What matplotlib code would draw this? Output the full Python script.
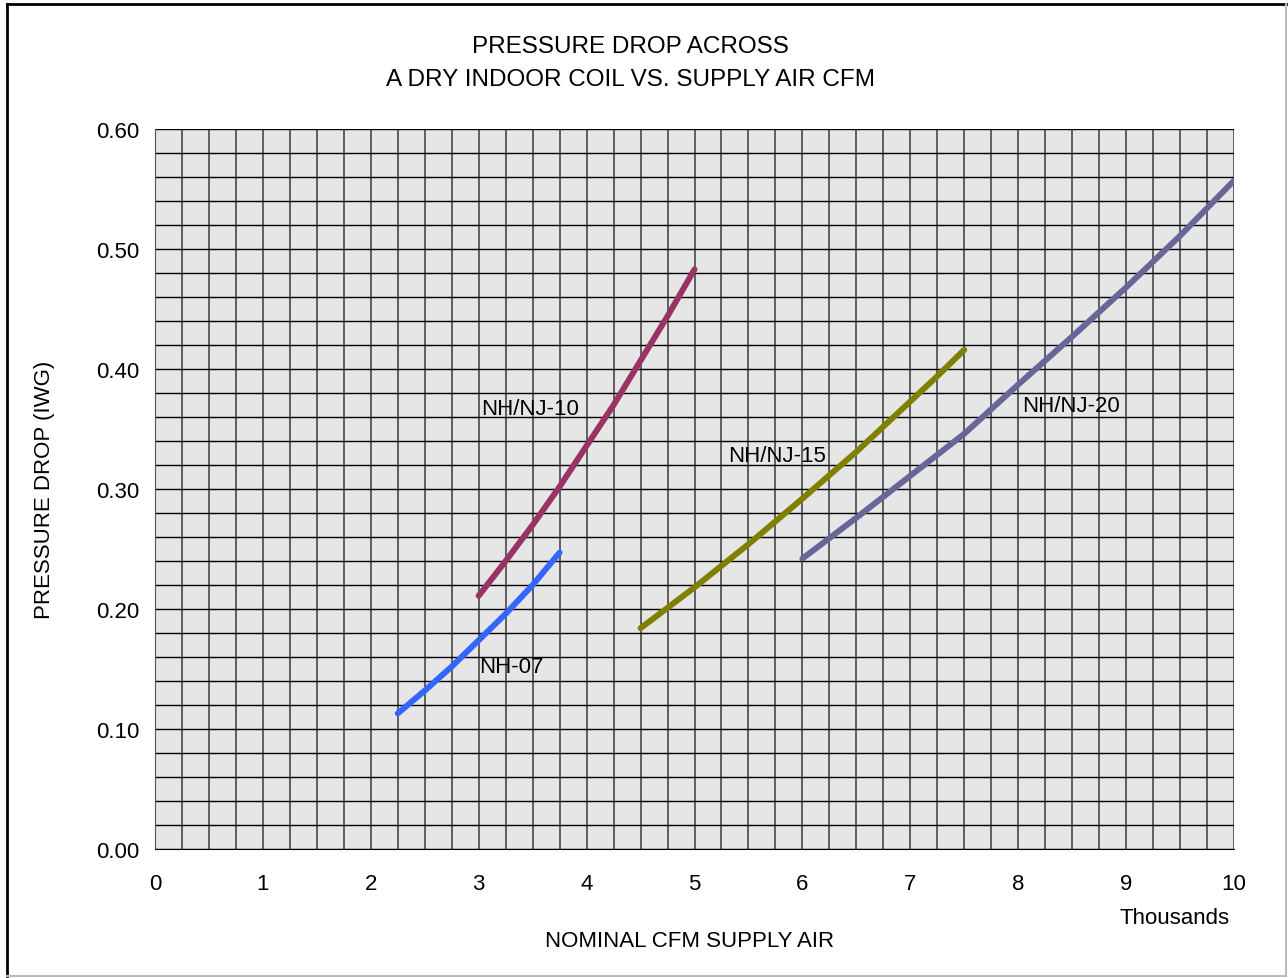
import matplotlib.pyplot as plt
from matplotlib.ticker import MultipleLocator, FormatStrFormatter
from matplotlib.lines import Line2D

# supply air, thousands of CFM / pressure drop, IWG
nh07_cfm = [2.25, 2.5, 2.75, 3.0, 3.25, 3.5, 3.75]
nh07_dp = [0.113, 0.132, 0.152, 0.174, 0.196, 0.220, 0.247]

nj10_cfm = [3.0, 3.25, 3.5, 3.75, 4.0, 4.25, 4.5, 4.75, 5.0]
nj10_dp = [0.211, 0.240, 0.270, 0.302, 0.336, 0.370, 0.407, 0.444, 0.483]

nj15_cfm = [4.5, 5.0, 5.5, 6.0, 6.5, 7.0, 7.25, 7.5]
nj15_dp = [0.184, 0.218, 0.254, 0.292, 0.331, 0.373, 0.394, 0.416]

nj20_cfm = [6.0, 6.5, 7.0, 7.5, 8.0, 8.5, 9.0, 9.5, 10.0]
nj20_dp = [0.242, 0.276, 0.311, 0.346, 0.387, 0.427, 0.468, 0.511, 0.557]

series_names = ['NH-07', 'NH/NJ-10', 'NH/NJ-15', 'NH/NJ-20']
series_colors = ['#3366FF', '#993366', '#808000', '#666699']
# label anchor (left edge, vertical centre) in data units
label_x = [3.0, 3.02, 5.31, 8.04]
label_y = [0.152, 0.367, 0.328, 0.370]

plt.rcParams['font.family'] = ['Liberation Sans', 'DejaVu Sans']

fig = plt.figure(figsize=(12.88, 9.79), dpi=100)
ax = fig.add_axes([155 / 1288, 129 / 979, 1079 / 1288, 720 / 979])
ax.set_facecolor('#E6E6E6')

all_x = [nh07_cfm, nj10_cfm, nj15_cfm, nj20_cfm]
all_y = [nh07_dp, nj10_dp, nj15_dp, nj20_dp]
for xs, ys, c in zip(all_x, all_y, series_colors):
    ax.plot(xs, ys, color=c, lw=4.3, solid_capstyle='round', zorder=3)

for name, lx, ly in zip(series_names, label_x, label_y):
    ax.text(lx, ly, name, fontsize=16, ha='left', va='center', color='black', zorder=4)

ax.set_xlim(0, 10)
ax.set_ylim(0, 0.60)
ax.xaxis.set_major_locator(MultipleLocator(1))
ax.xaxis.set_minor_locator(MultipleLocator(0.25))
ax.yaxis.set_major_locator(MultipleLocator(0.10))
ax.yaxis.set_minor_locator(MultipleLocator(0.02))
ax.yaxis.set_major_formatter(FormatStrFormatter('%.2f'))

ax.grid(True, which='both', axis='x', color='#3a3a3a', lw=1.1, zorder=1)
ax.grid(True, which='both', axis='y', color='black', lw=1.0, zorder=1)
ax.set_axisbelow(True)

ax.tick_params(axis='both', which='both', length=0, labelsize=16)
ax.tick_params(axis='x', pad=17.6)
ax.tick_params(axis='y', pad=11)

for s in ['top', 'right']:
    ax.spines[s].set_visible(False)
ax.spines['left'].set_color('#555555')
ax.spines['bottom'].set_color('black')

fig.text(630 / 1288, 1 - 47 / 979, 'PRESSURE DROP ACROSS', ha='center', va='center', fontsize=17.5)
fig.text(630 / 1288, 1 - 80 / 979, 'A DRY INDOOR COIL VS. SUPPLY AIR CFM', ha='center', va='center', fontsize=17.5)
fig.text(690 / 1288, 1 - 942 / 979, 'NOMINAL CFM SUPPLY AIR', ha='center', va='center', fontsize=16)
fig.text(1175 / 1288, 1 - 919 / 979, 'Thousands', ha='center', va='center', fontsize=16)
fig.text(45 / 1288, 1 - 490 / 979, 'PRESSURE DROP (IWG)', ha='center', va='center', rotation=90, fontsize=16)

# chart area frame: dark on left/top, light on right/bottom
fig.add_artist(Line2D([7 / 1288, 7 / 1288], [1 - 5 / 979, 1 - 977 / 979], transform=fig.transFigure, color='black', lw=2))
fig.add_artist(Line2D([7 / 1288, 1286 / 1288], [1 - 5 / 979, 1 - 5 / 979], transform=fig.transFigure, color='black', lw=2))
fig.add_artist(Line2D([1286 / 1288, 1286 / 1288], [1 - 5 / 979, 1 - 977 / 979], transform=fig.transFigure, color='#bbbbbb', lw=1.5))
fig.add_artist(Line2D([7 / 1288, 1286 / 1288], [1 - 977 / 979, 1 - 977 / 979], transform=fig.transFigure, color='#bbbbbb', lw=1.5))

fig.savefig('out.png', dpi=100)
